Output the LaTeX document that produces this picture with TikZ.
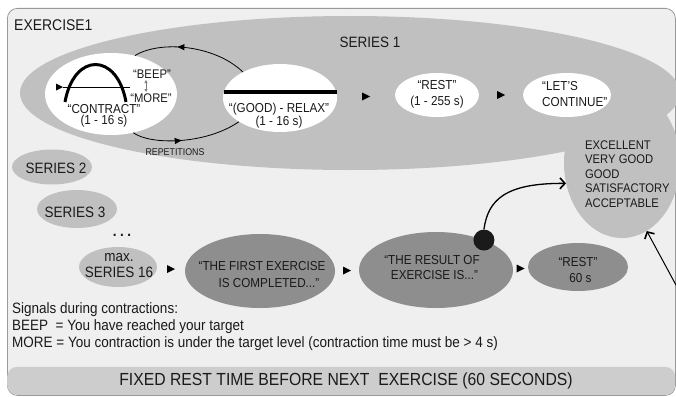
\documentclass[tikz,border=0pt]{standalone}
\usepackage{fontspec}
\setmainfont[FakeStretch=0.9]{Liberation Sans}
\usetikzlibrary{arrows.meta,decorations.markings,shapes.geometric}
\definecolor{bgc}{HTML}{EFEFEF}
\definecolor{borderc}{HTML}{999999}
\definecolor{barc}{HTML}{CDCDCD}
\definecolor{lightg}{HTML}{C0C0C0}
\definecolor{darkg}{HTML}{8E8E8E}
\definecolor{txt}{HTML}{1A1A1A}
\begin{document}
\begin{tikzpicture}[x=1pt,y=-1pt,
  every node/.style={text=txt, inner sep=0pt},
  blob/.style={ellipse, inner sep=0pt, draw=none},
  lt/.style={blob, fill=lightg},
  wt/.style={blob, fill=white},
  dk/.style={blob, fill=darkg},
  lbl/.style={font=\fontsize{13}{16}\selectfont, align=center},
  tightlbl/.style={font=\fontsize{13}{11}\selectfont, align=center},
  serlbl/.style={font=\fontsize{15}{16}\selectfont, align=center},
  cyc/.style={draw=black, line width=0.8pt, postaction={decorate},
    decoration={markings, mark=at position #1 with {\arrow{Triangle[length=7pt,width=6pt]}}}},
  openarrow/.style={draw=black, -{Straight Barb[length=5pt,width=11pt,line width=1.6pt]}},
]
\useasboundingbox (0,0) rectangle (676,396);
\fill[white] (0,0) rectangle (676,396);
% frame and bottom bar
\node[draw=borderc, fill=bgc, rounded corners=10pt, minimum width=668pt, minimum height=387pt, anchor=north west, line width=0.8pt] (frame) at (7,8) {};
\node[fill=barc, rounded corners=10pt, minimum width=668pt, minimum height=28pt, anchor=south west] (bar) at (7,395) {};
\node[font=\fontsize{17.5}{20}\selectfont] (bartxt) at (346,381) {FIXED REST TIME BEFORE NEXT\ \ EXERCISE (60 SECONDS)};
% big gray shapes
\node[lt, minimum width=660pt, minimum height=154pt] (series1) at (350,93) {};
\node[lt, minimum width=116pt, minimum height=150pt] (grade) at (622,163) {};
\node[lt, minimum width=80pt, minimum height=35pt] (s2) at (52,167) {};
\node[lt, minimum width=80pt, minimum height=38pt] (s3) at (77,209) {};
\node[lt, minimum width=78pt, minimum height=40pt] (s16) at (118,267) {};
% white ellipses
\node[wt, minimum width=132pt, minimum height=82pt] (contract) at (111,94) {};
\node[wt, minimum width=114pt, minimum height=68pt] (relax) at (280,98) {};
\node[wt, minimum width=84pt, minimum height=44pt] (rest) at (437,95) {};
\node[wt, minimum width=88pt, minimum height=44pt] (cont) at (567,95) {};
% dark ellipses
\node[dk, minimum width=150pt, minimum height=74pt] (first) at (260,271) {};
\node[dk, minimum width=154pt, minimum height=76pt] (result) at (436,270) {};
\node[dk, minimum width=100pt, minimum height=48pt] (rest60) at (578,267) {};
% contraction sketch
\draw[line width=0.7pt] (63,87) -- (130,87);
\fill (56,83.5) -- (63,87) -- (56,90.5) -- cycle;
\draw[line width=3pt] (65,102) .. controls (74,52) and (117,52) .. (126,102);
\draw[line width=3.2pt] (224,92) -- (337,92);
% texts
\node[font=\fontsize{15.5}{18}\selectfont, anchor=west] (extitle) at (14,25) {EXERCISE1};
\node[font=\fontsize{15}{18}\selectfont] (s1lbl) at (370,42) {SERIES 1};
\node[tightlbl] (contracttxt) at (104,116) {“CONTRACT”\\(1 - 16 s)};
\node[font=\fontsize{12.5}{14}\selectfont] (beep) at (152,74) {“BEEP”};
\node[font=\fontsize{12.5}{14}\selectfont] (more) at (151,98) {“MORE”};
\coordinate (ba) at (146,80);
\coordinate (mb) at (146,92);
\draw[gray, line width=0.5pt, {Triangle[length=3pt,width=3pt]}-{Triangle[length=3pt,width=3pt]}] (ba) -- (mb);
\node[tightlbl] (relaxtxt) at (279,116) {“(GOOD) - RELAX”\\(1 - 16 s)};
\node[lbl, font=\fontsize{13}{16.5}\selectfont] (resttxt) at (437,94.5) {“REST”\\(1 - 255 s)};
\node[lbl, align=left, anchor=west] (conttxt) at (542,94) {“LET'S\\CONTINUE”};
\node[font=\fontsize{9.8}{11}\selectfont] (rep) at (175,152) {REPETITIONS};
\node[serlbl] (s2txt) at (56,168) {SERIES 2};
\node[serlbl] (s3txt) at (75,212) {SERIES 3};
\node[font=\fontsize{15}{16}\selectfont\bfseries] (dots) at (122,235) {.\hspace{3.5pt}.\hspace{3.5pt}.};
\node[serlbl] (s16txt) at (119,266) {max.\\SERIES 16};
\node[lbl, font=\fontsize{13}{17}\selectfont] (firsttxt) at (262,275) {“THE FIRST EXERCISE\\\hspace*{14pt}IS COMPLETED...”};
\node[lbl, font=\fontsize{13}{15}\selectfont] (resulttxt) at (432,267.5) {“THE RESULT OF\\\hspace*{5pt}EXERCISE IS...”};
\node[lbl] (rest60txt) at (578,270) {“REST”\\\hspace*{5pt}60 s};
\node[font=\fontsize{12.5}{14.5}\selectfont, align=left, anchor=west] (gradetxt) at (585,174) {EXCELLENT\\VERY GOOD\\GOOD\\SATISFACTORY\\ACCEPTABLE};
\node[font=\fontsize{15}{17}\selectfont, align=left, anchor=west] (signals) at (12,327) {Signals during contractions:\\BEEP\ \ = You have reached your target\\MORE = You contraction is under the target level (contraction time must be > 4 s)};
% repetition cycle
\draw[cyc=0.62] (relax.145) .. controls (215,45) and (160,40) .. (contract.58);
\draw[cyc=0.45] (contract.-60) .. controls (150,145) and (205,145) .. (relax.210);
% flow markers
\path (relax.east) -- (rest.west) coordinate[midway] (t1);
\path (rest.east) -- (cont.west) coordinate[midway] (t2);
\path (s16.east) -- (first.west) coordinate[midway] (t3);
\path (first.east) -- (result.west) coordinate[midway] (t4);
\path (result.east) -- (rest60.west) coordinate[midway] (t5);
\foreach \t in {t1,t2,t3,t4,t5}{
  \fill[shift={(\t)}] (-4,-4) -- (4,0) -- (-4,4) -- cycle;
}
% result dot and arrows to grades
\node[circle, fill=txt, minimum size=21pt, inner sep=0pt] (dot) at (result.32) {};
\draw[openarrow, line width=1.3pt] (dot.north) .. controls (488,200) and (505,183) .. (grade.200);
\coordinate (lr) at (683,298);
\draw[openarrow, line width=1pt] (lr) -- (grade.-70);
\end{tikzpicture}
\end{document}
